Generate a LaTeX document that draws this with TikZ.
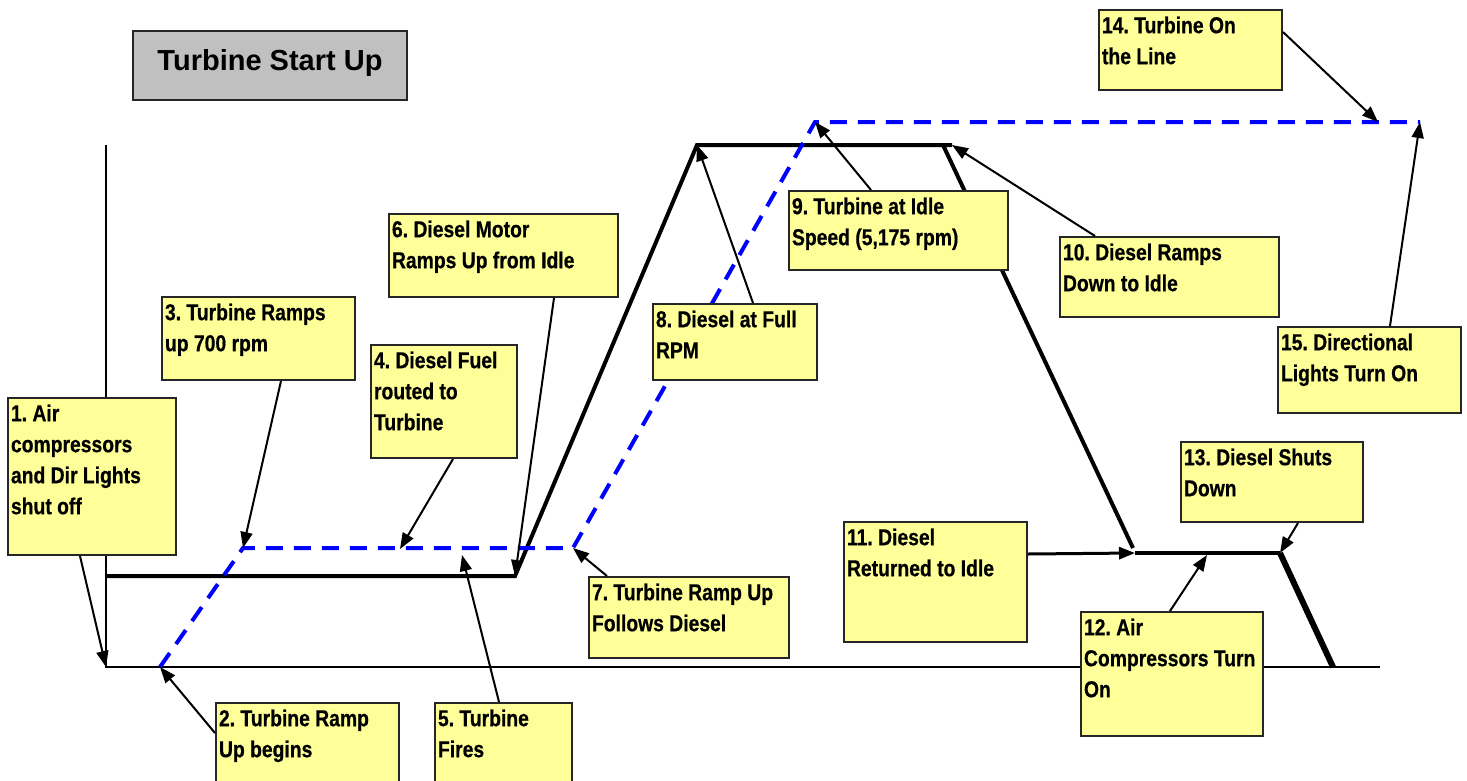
\documentclass[tikz,border=0pt]{standalone}
\usepackage{fontspec}
\usepackage{xcolor}
\usetikzlibrary{arrows.meta}
\newfontfamily\notefont{Liberation Sans}[FakeStretch=0.84, FakeBold=0.6]
\newfontfamily\titlefont{Liberation Sans}
\definecolor{noteyellow}{HTML}{FFFF99}
\definecolor{titlegray}{HTML}{C0C0C0}
\frenchspacing
\newcommand{\notetext}[3]{\parbox[t][#2][t]{#1}{\begin{tabular}[t]{@{}l@{}}#3\end{tabular}}}
\tikzset{
  note/.style={draw=black!85, line width=2pt, fill=noteyellow, anchor=north west,
    inner xsep=3pt, inner ysep=1.5pt, font=\notefont\bfseries\fontsize{23}{31}\selectfont},
  titlebox/.style={draw=black!85, line width=2pt, fill=titlegray, minimum width=274pt,
    minimum height=69pt, text height=21pt, text depth=12pt,
    font=\titlefont\bfseries\fontsize{29}{35}\selectfont},
  pointer/.style={black, line width=2pt, -{Triangle[length=16pt,width=12pt]}},
  axis/.style={black, line width=2.5pt},
  diesel/.style={black, line width=4pt},
  turbine/.style={blue, line width=4pt, dash pattern=on 17pt off 11pt}
}

\begin{document}
\begin{tikzpicture}[x=1pt,y=-1pt]
\useasboundingbox (0,0) rectangle (1467,780);
% axes
\coordinate (ytop) at (106,145);
\coordinate (origin) at (106,667);
\coordinate (xend) at (1380,667);
\draw[axis] (ytop) -- (origin) -- (xend);
% diesel trace
\coordinate (dstart) at (106,576);
\coordinate (dup) at (515,576);
\coordinate (dtop) at (697,145);
\coordinate (dtopend) at (952,145);
\coordinate (ddown) at (943,145);
\coordinate (dslope) at (1133,548);
\coordinate (didle) at (1135,553);
\coordinate (doff) at (1280,553);
\coordinate (dend) at (1333,667);
\draw[diesel] (dstart) -- (dup) -- (dtop) -- (dtopend);
\draw[diesel] (ddown) -- (dslope);
\draw[diesel] (didle) -- (doff);
\draw[diesel, line width=6pt] (doff) -- (dend);
% turbine trace
\coordinate (tstart) at (160,667);
\coordinate (tidle) at (243,548);
\coordinate (tup) at (573,548);
\coordinate (ttop) at (815,122);
\coordinate (tend) at (1420,122);
\draw[turbine] (tstart) -- (tidle) -- (tup) -- (ttop) -- (tend);
\coordinate (fuelpt) at (400,549);
\coordinate (firept) at (462,555);
\coordinate (airpt) at (1207,555);
\coordinate (onlinept) at (1378,122);

\node[titlebox] (title) at (270,65.5) {Turbine Start Up};

\node[note] (aircomp) at (7,397) {\notetext{162pt}{154pt}{1. Air\\compressors\\and Dir Lights\\shut off}};
\node[note] (rampbegins) at (215,702) {\notetext{177pt}{97pt}{2. Turbine Ramp\\Up begins}};
\node[note] (ramp700) at (161,296) {\notetext{187pt}{80pt}{3. Turbine Ramps\\up 700 rpm}};
\node[note] (fuel) at (370,344) {\notetext{140pt}{110pt}{4. Diesel Fuel\\routed to\\Turbine}};
\node[note] (fires) at (434,702) {\notetext{131pt}{97pt}{5. Turbine\\Fires}};
\node[note] (dieselup) at (388,213) {\notetext{223pt}{80pt}{6. Diesel Motor\\Ramps Up from Idle}};
\node[note] (follows) at (588,576) {\notetext{194pt}{78pt}{7. Turbine Ramp Up\\Follows Diesel}};
\node[note] (fullrpm) at (652,303) {\notetext{158pt}{73pt}{8. Diesel at Full\\RPM}};
\node[note] (idlespeed) at (788,190) {\notetext{213pt}{76pt}{9. Turbine at Idle\\Speed (5,175 rpm)}};
\node[note] (dieseldown) at (1059,236) {\notetext{213pt}{77pt}{10. Diesel Ramps\\Down to Idle}};
\node[note] (dieselidle) at (843,521) {\notetext{177pt}{117pt}{11. Diesel\\Returned to Idle}};
\node[note] (airon) at (1080,611) {\notetext{176pt}{121pt}{12. Air\\Compressors Turn\\On}};
\node[note] (shutdown) at (1180,441) {\notetext{176pt}{77pt}{13. Diesel Shuts\\Down}};
\node[note] (online) at (1098,9) {\notetext{177pt}{77pt}{14. Turbine On\\the Line}};
\node[note] (lights) at (1277,326) {\notetext{177pt}{83pt}{15. Directional\\Lights Turn On}};

\draw[pointer] ([xshift=-12pt]aircomp.south) -- (origin);
\draw[pointer] ([yshift=-31pt]rampbegins.north west) -- (tstart);
\draw[pointer] ([xshift=22.5pt]ramp700.south) -- (tidle);
\draw[pointer] ([xshift=9pt]fuel.south) -- (fuelpt);
\draw[pointer] ([xshift=-4.5pt]fires.north) -- (firept);
\draw[pointer] ([xshift=50.5pt]dieselup.south) -- (dup);
\draw[pointer] ([xshift=19pt]follows.north west) -- (tup);
\draw[pointer] ([xshift=18pt]fullrpm.north) -- (dtop);
\draw[pointer] ([xshift=-27.5pt]idlespeed.north) -- (ttop);
\draw[pointer] ([xshift=36pt]dieseldown.north west) -- (dtopend);
\draw[pointer, line width=3pt] ([yshift=28pt]dieselidle.east) -- (didle);
\draw[pointer] ([xshift=-2pt]airon.north) -- (airpt);
\draw[pointer] ([xshift=26pt]shutdown.south) -- (doff);
\draw[pointer] ([yshift=-23pt]online.north east) -- (onlinept);
\draw[pointer] ([xshift=20.5pt]lights.north) -- (tend);
\end{tikzpicture}
\end{document}
